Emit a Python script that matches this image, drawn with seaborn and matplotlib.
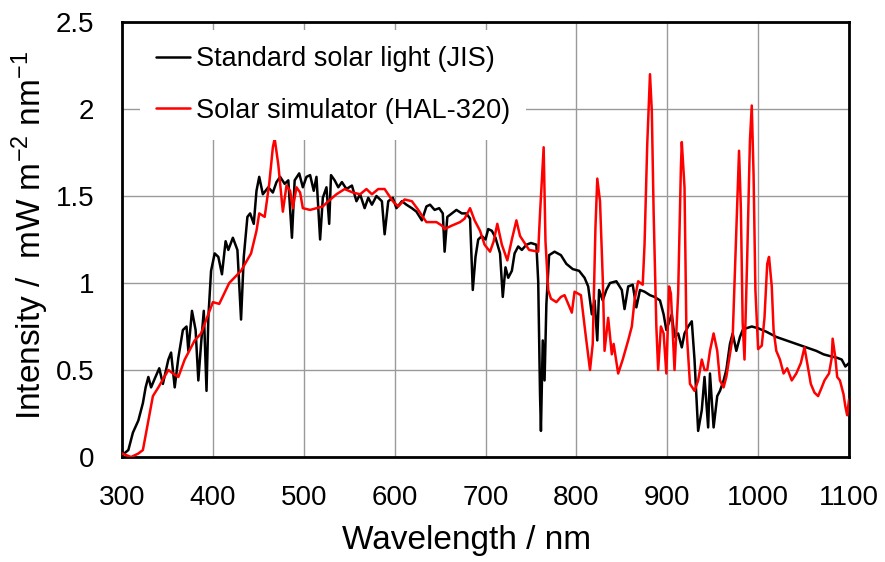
import matplotlib
matplotlib.use("Agg")
import matplotlib.pyplot as plt
import seaborn as sns
import pandas as pd

# ---- data ----
jis_wl = [300, 307, 312, 318, 323, 326, 329, 332, 336, 341, 345, 351, 354, 358, 362, 367, 371, 373, 377, 381,
          384, 387, 390, 393, 395, 398, 402, 406, 410, 414, 417, 422, 427, 431, 434, 438, 441, 445, 448, 451,
          455, 461, 466, 470, 474, 479, 483, 487, 490, 495, 499, 503, 507, 511, 514, 518, 521, 525, 528, 530,
          534, 538, 542, 547, 553, 558, 562, 567, 571, 575, 580, 586, 589, 593, 598, 602, 608, 613, 619, 624,
          630, 635, 639, 644, 649, 653, 655, 658, 663, 668, 674, 679, 683, 686, 689, 692, 696, 700, 703, 707,
          711, 716, 719, 722, 725, 729, 732, 736, 740, 745, 750, 756, 758, 760, 761, 763, 765, 767, 770, 776,
          783, 789, 796, 803, 809, 813, 817, 820, 823, 825, 829, 833, 837, 844, 850, 853, 857, 862, 866, 870,
          875, 881, 886, 892, 896, 899, 905, 908, 912, 916, 919, 923, 927, 930, 934, 938, 941, 945, 947, 951,
          955, 958, 962, 965, 969, 972, 976, 980, 983, 987, 993, 1000, 1009, 1020, 1031, 1042, 1053, 1064, 1072, 1079,
          1087, 1092, 1096, 1100]
jis_val = [0.01, 0.04, 0.14, 0.21, 0.31, 0.40, 0.46, 0.40, 0.45, 0.51, 0.42, 0.56, 0.60, 0.40, 0.57, 0.73, 0.75, 0.61, 0.84, 0.73,
           0.44, 0.65, 0.84, 0.38, 0.80, 1.07, 1.17, 1.15, 1.05, 1.24, 1.19, 1.26, 1.19, 0.79, 1.15, 1.38, 1.40, 1.34, 1.53, 1.61,
           1.51, 1.55, 1.52, 1.58, 1.61, 1.57, 1.59, 1.26, 1.59, 1.63, 1.55, 1.61, 1.62, 1.53, 1.61, 1.25, 1.49, 1.55, 1.34, 1.62,
           1.59, 1.55, 1.58, 1.54, 1.56, 1.47, 1.51, 1.43, 1.49, 1.45, 1.50, 1.47, 1.28, 1.47, 1.49, 1.43, 1.47, 1.45, 1.43, 1.41,
           1.36, 1.44, 1.45, 1.42, 1.43, 1.40, 1.18, 1.38, 1.40, 1.42, 1.40, 1.40, 1.37, 0.96, 1.15, 1.25, 1.27, 1.25, 1.31, 1.30,
           1.26, 1.17, 0.92, 1.09, 1.03, 1.07, 1.17, 1.21, 1.19, 1.22, 1.23, 1.22, 1.01, 0.36, 0.15, 0.67, 0.44, 0.88, 1.16, 1.18,
           1.16, 1.11, 1.08, 1.07, 1.03, 0.98, 0.82, 0.90, 0.67, 0.96, 0.90, 0.96, 1.00, 1.01, 0.96, 0.85, 0.98, 0.99, 0.86, 0.96,
           0.95, 0.93, 0.92, 0.90, 0.82, 0.73, 0.82, 0.69, 0.71, 0.63, 0.71, 0.75, 0.78, 0.56, 0.15, 0.27, 0.46, 0.17, 0.48, 0.17,
           0.35, 0.38, 0.44, 0.50, 0.65, 0.71, 0.61, 0.69, 0.73, 0.74, 0.75, 0.74, 0.72, 0.69, 0.67, 0.65, 0.63, 0.61, 0.59, 0.58,
           0.57, 0.56, 0.52, 0.54]

hal_wl = [300, 310, 318, 323, 329, 334, 340, 351, 356, 362, 369, 380, 387, 395, 400, 407, 418, 431, 442, 448,
          451, 457, 462, 466, 468, 472, 477, 481, 485, 488, 492, 496, 499, 507, 514, 521, 527, 536, 545, 554,
          562, 569, 575, 582, 589, 598, 604, 611, 619, 626, 631, 635, 646, 652, 655, 663, 672, 677, 683, 688,
          694, 699, 705, 709, 713, 718, 724, 729, 734, 738, 743, 748, 758, 760, 762, 764, 766, 769, 772, 778,
          783, 787, 795, 798, 805, 810, 815, 818, 821, 823, 826, 829, 831, 835, 839, 841, 846, 851, 857, 861,
          864, 868, 873, 875, 878, 881, 883, 885, 888, 890, 893, 896, 899, 902, 904, 908, 912, 915, 916, 919,
          921, 925, 930, 934, 938, 941, 944, 947, 951, 955, 958, 962, 965, 969, 972, 975, 979, 981, 983, 985,
          988, 991, 993, 995, 997, 1000, 1004, 1007, 1010, 1012, 1015, 1017, 1020, 1024, 1028, 1032, 1037, 1042, 1047, 1051,
          1054, 1058, 1062, 1066, 1070, 1073, 1078, 1081, 1082, 1085, 1087, 1090, 1094, 1096, 1098, 1100]
hal_val = [0.02, 0.00, 0.02, 0.04, 0.21, 0.35, 0.40, 0.50, 0.48, 0.46, 0.56, 0.67, 0.71, 0.82, 0.89, 0.88, 1.00, 1.07, 1.17, 1.30,
           1.40, 1.38, 1.57, 1.78, 1.83, 1.68, 1.41, 1.56, 1.53, 1.43, 1.55, 1.52, 1.43, 1.42, 1.43, 1.44, 1.47, 1.51, 1.54, 1.52,
           1.51, 1.54, 1.51, 1.54, 1.54, 1.47, 1.44, 1.48, 1.47, 1.42, 1.38, 1.35, 1.35, 1.33, 1.31, 1.33, 1.35, 1.37, 1.43, 1.36,
           1.30, 1.22, 1.18, 1.24, 1.34, 1.22, 1.13, 1.25, 1.36, 1.27, 1.23, 1.19, 1.18, 1.40, 1.59, 1.78, 1.24, 0.96, 0.91, 0.89,
           0.92, 0.93, 0.83, 0.95, 0.93, 0.71, 0.50, 0.65, 1.32, 1.60, 1.47, 1.03, 0.61, 0.80, 0.59, 0.65, 0.48, 0.56, 0.67, 0.75,
           0.90, 1.01, 0.99, 1.22, 1.80, 2.20, 1.99, 1.41, 0.75, 0.50, 0.75, 0.71, 0.48, 0.98, 0.94, 0.50, 0.94, 1.66, 1.81, 1.55,
           0.75, 0.42, 0.38, 0.44, 0.56, 0.50, 0.50, 0.61, 0.71, 0.61, 0.44, 0.40, 0.46, 0.59, 0.69, 1.15, 1.76, 1.43, 0.77, 0.56,
           1.15, 1.82, 2.02, 1.62, 0.96, 0.62, 0.64, 0.80, 1.11, 1.15, 0.98, 0.73, 0.61, 0.56, 0.48, 0.51, 0.44, 0.48, 0.54, 0.63,
           0.54, 0.42, 0.37, 0.35, 0.40, 0.44, 0.48, 0.57, 0.68, 0.57, 0.46, 0.44, 0.36, 0.29, 0.24, 0.33]

series_names = ["Standard solar light (JIS)", "Solar simulator (HAL-320)"]
x_ticks = [300, 400, 500, 600, 700, 800, 900, 1000, 1100]
y_ticks = [0, 0.5, 1, 1.5, 2, 2.5]
y_tick_labels = ["0", "0.5", "1", "1.5", "2", "2.5"]

sns.set_style("white")
plt.rcParams["font.family"] = ["Liberation Sans", "DejaVu Sans"]
plt.rcParams["mathtext.fontset"] = "custom"
plt.rcParams["mathtext.rm"] = "Liberation Sans"
plt.rcParams["mathtext.it"] = "Liberation Sans"
plt.rcParams["text.color"] = "black"
plt.rcParams["axes.labelcolor"] = "black"

df_jis = pd.DataFrame({"wl": jis_wl, "val": jis_val})
df_hal = pd.DataFrame({"wl": hal_wl, "val": hal_val})

fig = plt.figure(figsize=(8.85, 5.62), dpi=100)
ax = fig.add_axes([122 / 885, 1 - 457 / 562, 727 / 885, 435 / 562])

sns.lineplot(data=df_jis, x="wl", y="val", color="black", lw=1.8, ax=ax,
             estimator=None, label=series_names[0], zorder=3)
sns.lineplot(data=df_hal, x="wl", y="val", color="#ff0000", lw=1.8, ax=ax,
             estimator=None, label=series_names[1], zorder=4)

ax.set_xlim(300, 1100)
ax.set_ylim(0, 2.5)
ax.set_xticks(x_ticks)
ax.set_xticklabels([str(t) for t in x_ticks])
ax.set_yticks(y_ticks)
ax.set_yticklabels(y_tick_labels)
ax.tick_params(axis="both", length=0, labelsize=20, colors="black")
ax.tick_params(axis="y", pad=20)
ax.tick_params(axis="x", pad=20)
ax.grid(True, color="#9a9a9a", lw=1.0)
ax.set_axisbelow(True)
for s in ax.spines.values():
    s.set_color("black")
    s.set_linewidth(2.0)

ax.set_xlabel("Wavelength / nm", fontsize=24, color="black")
ax.set_ylabel("Intensity /  mW m$^{-2}$ nm$^{-1}$", fontsize=24, color="black")
ax.xaxis.set_label_coords((467 - 122) / 727, -(541 - 457) / 435)
ax.yaxis.set_label_coords(-(122 - 30) / 727, (457 - 235) / 435)
ax.xaxis.label.set_va("center")
ax.yaxis.label.set_va("center")

leg = ax.legend(loc="upper left", bbox_to_anchor=(18 / 727, 1 - 8 / 435), borderaxespad=0,
                fontsize=19.5, frameon=True, fancybox=False, edgecolor="none", facecolor="white",
                framealpha=1, handlelength=1.25, handletextpad=0.2, labelspacing=0.95, borderpad=0.6)
for line in leg.get_lines():
    line.set_linewidth(1.8)
for t in leg.get_texts():
    t.set_color("black")

fig.savefig("out.png", dpi=100)
